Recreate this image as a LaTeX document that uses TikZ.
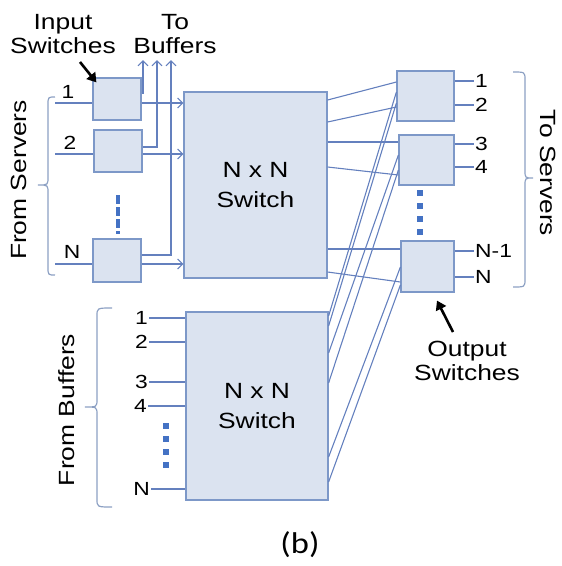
\documentclass[tikz,border=0pt]{standalone}
\usepackage{fontspec}
\setmainfont{Liberation Sans}[FakeStretch=1.2]
\newfontfamily\capfont{Carlito}[FakeStretch=1.15]
\usetikzlibrary{arrows.meta}
\definecolor{boxfill}{RGB}{219,227,240}
\definecolor{boxdraw}{RGB}{125,152,200}
\definecolor{wirecol}{RGB}{100,128,190}
\definecolor{bracecol}{RGB}{140,160,195}
\definecolor{dotcol}{RGB}{68,114,196}
\newcommand\LeftBrc[6]{%
  \draw[brace] (#1,#4) .. controls (#2,#4) .. (#2,#4+8) -- (#2,#5-8)
    .. controls (#2,#5) .. (#3,#5) .. controls (#2,#5) .. (#2,#5+8)
    -- (#2,#6-8) .. controls (#2,#6) .. (#1,#6);}
\begin{document}
\begin{tikzpicture}[x=1pt,y=-1pt,
  box/.style={draw=boxdraw, fill=boxfill, line width=1.2pt, inner sep=0pt},
  wire/.style={draw=wirecol, line width=1.1pt},
  openarr/.style={wire, -{Straight Barb[length=5pt,width=10pt]}},
  lbl/.style={font=\fontsize{19}{22}\selectfont, inner sep=1pt},
  big/.style={font=\fontsize{22}{24}\selectfont, align=center, inner sep=0pt},
  sw/.style={font=\fontsize{22}{30}\selectfont, align=center, inner sep=0pt},
  brace/.style={draw=bracecol, line width=1.2pt},
  callout/.style={line width=2.6pt, -{Triangle[length=9pt,width=11pt]}},
  dots/.style={draw=dotcol, line width=6pt, dash pattern=on 6pt off 7pt},
]
\useasboundingbox (0,0) rectangle (562,566);

% input switches
\node[box, minimum width=48pt, minimum height=42pt] (in1) at (117,99) {};
\node[box, minimum width=48pt, minimum height=42pt] (in2) at (118,151) {};
\node[box, minimum width=48pt, minimum height=43pt] (inN) at (117,260.5) {};
\draw[draw=dotcol, line width=4pt, dash pattern=on 9pt off 3pt] (118,195) -- (118,234);

% big switches
\node[box, minimum width=143pt, minimum height=186pt, sw] (sw1) at (255.5,185) {N x N\\Switch};
\node[box, minimum width=142pt, minimum height=188pt, sw] (sw2) at (257,406) {N x N\\Switch};

% output switches
\node[box, minimum width=57pt, minimum height=50pt] (out1) at (425.5,96) {};
\node[box, minimum width=55pt, minimum height=50pt] (out2) at (426.5,160) {};
\node[box, minimum width=53pt, minimum height=51pt] (outN) at (427.5,266.5) {};
\draw[dots] (420,190) -- (420,236);

% input side labels and wires
\node[lbl] (l1) at (68,92) {1};
\node[lbl] (l2) at (70,143) {2};
\node[lbl] (lN) at (72,252) {N};
\coordinate (s1) at (55,103);
\coordinate (s2) at (55,154);
\coordinate (sN) at (55,264);
\draw[wire] (s1) -- (s1 -| in1.west);
\draw[wire] (s2) -- (s2 -| in2.west);
\draw[wire] (sN) -- (sN -| inN.west);
\draw[openarr] (s1 -| in1.east) -- (s1 -| sw1.west);
\draw[openarr] (s2 -| in2.east) -- (s2 -| sw1.west);
\draw[openarr] (sN -| inN.east) -- (sN -| sw1.west);
\coordinate (u1) at (143,60);
\coordinate (u2) at (157,60);
\coordinate (u3) at (171,60);
\draw[openarr] ([yshift=6pt]in1.east) -| (u1);
\draw[openarr] ([yshift=4pt]in2.east) -| (u2);
\draw[openarr] ([yshift=5.5pt]inN.east) -| (u3);

% bottom switch inputs
\node[lbl, anchor=east] (b1) at (149,318) {1};
\node[lbl, anchor=east] (b2) at (149,342) {2};
\node[lbl, anchor=east] (b3) at (149,382) {3};
\node[lbl, anchor=east] (b4) at (148,406) {4};
\node[lbl, anchor=east] (bN) at (151,489) {N};
\foreach \n in {b1,b2,b3,b4,bN} \draw[wire] (\n.east) -- (\n.east -| sw2.west);
\draw[dots] (166,423) -- (166,468);

% top switch to output switches
\draw[wire] ([yshift=85pt]sw1.east) -- ([yshift=14pt]out1.west);
\draw[wire] ([yshift=63pt]sw1.east) -- ([yshift=-11pt]out1.west);
\draw[wire] ([yshift=43pt]sw1.east) -- ([yshift=18pt]out2.west);
\draw[wire] ([yshift=18pt]sw1.east) -- ([yshift=-15pt]out2.west);
\draw[wire] ([yshift=-64pt]sw1.east) -- ([yshift=17.5pt]outN.west);
\draw[wire] ([yshift=-87pt]sw1.east) -- ([yshift=-15.5pt]outN.west);

% bottom switch to output switches
\draw[wire] ([yshift=90pt]sw2.east) -- ([yshift=4pt]out1.west);
\draw[wire] ([yshift=80pt]sw2.east) -- ([yshift=-7pt]out1.west);
\draw[wire] ([yshift=53pt]sw2.east) -- ([yshift=5pt]out2.west);
\draw[wire] ([yshift=23pt]sw2.east) -- ([yshift=-10pt]out2.west);
\draw[wire] ([yshift=-51pt]sw2.east) -- ([yshift=-0.5pt]outN.west);
\draw[wire] ([yshift=-76pt]sw2.east) -- ([yshift=-18.5pt]outN.west);

% output labels
\node[lbl, anchor=west] (o1) at (474,81) {1};
\node[lbl, anchor=west] (o2) at (474,105) {2};
\node[lbl, anchor=west] (o3) at (474,144) {3};
\node[lbl, anchor=west] (o4) at (474,167) {4};
\node[lbl, anchor=west] (oN1) at (474,251) {N-1};
\node[lbl, anchor=west] (oN) at (474,277) {N};
\draw[wire] (o1.west -| out1.east) -- (o1.west);
\draw[wire] (o2.west -| out1.east) -- (o2.west);
\draw[wire] (o3.west -| out2.east) -- (o3.west);
\draw[wire] (o4.west -| out2.east) -- (o4.west);
\draw[wire] (oN1.west -| outN.east) -- (oN1.west);
\draw[wire] (oN.west -| outN.east) -- (oN.west);

% braces
\LeftBrc{55}{48}{38}{97}{185}{275}
\LeftBrc{112}{97}{85}{308}{407}{507}
\LeftBrc{513}{525}{533}{72}{178}{287}

% texts
\node[big] (tin) at (63,34) {Input\\Switches};
\node[big] (tbuf) at (175,34) {To\\Buffers};
\node[big] (tout) at (467,361) {Output\\Switches};
\node[big, rotate=90] (tfs) at (19,180) {From Servers};
\node[big, rotate=90] (tfb) at (67,410) {From Buffers};
\node[big, rotate=-90] (tts) at (548,173) {To Servers};
\node[font=\capfont\fontsize{30}{32}\selectfont, inner sep=0pt] (cap) at (300,545) {(b)};

% callout arrows
\coordinate (ca) at (80,62);
\draw[callout] (ca) -- ([xshift=4pt,yshift=-5pt]in1.north west);
\coordinate (co) at (453,332);
\draw[callout] (co) -- ([xshift=9.5pt,yshift=-8pt]outN.south);
\end{tikzpicture}
\end{document}
